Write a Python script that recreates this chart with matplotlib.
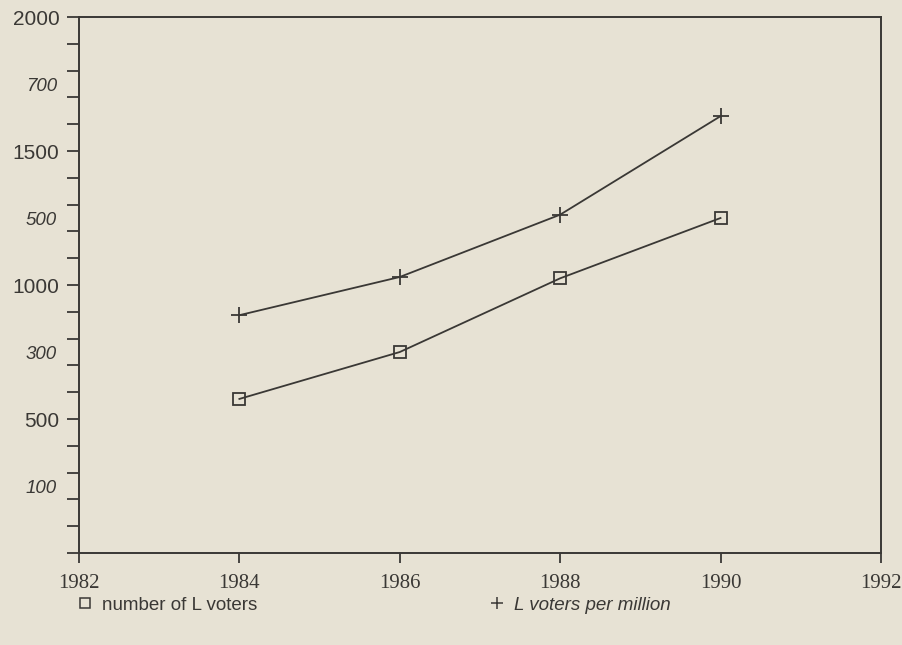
import numpy as np
import matplotlib
matplotlib.use("Agg")
import matplotlib.pyplot as plt
from matplotlib.lines import Line2D

# donnees
annees = [1984, 1986, 1988, 1990]
nb_voters = [575, 750, 1025, 1250]          # echelle de gauche (0-2000)
voters_per_million = [355, 412, 505, 652]   # echelle italique (0-800)

xticks = [1982, 1984, 1986, 1988, 1990, 1992]
yticks = [500, 1000, 1500, 2000]
yticks_pm = [100, 300, 500, 700]

fond = "#e7e2d4"
encre = "#3a3835"

fig = plt.figure(figsize=(9.02, 6.45), dpi=100)
fig.patch.set_facecolor(fond)
ax = fig.add_axes([0.0876, 0.1426, 0.889, 0.831])
ax.set_facecolor(fond)

ax.plot(annees, nb_voters, color=encre, lw=1.3, marker="s", ms=8,
        mfc="none", mec=encre, mew=1.3)
ax.set_xlim(1982, 1992)
ax.set_ylim(0, 2000)
ax.set_xticks(xticks)
ax.set_yticks(yticks)
ax.set_yticks([v for v in range(0, 2000, 100) if v not in yticks], minor=True)
ax.tick_params(axis="y", which="both", direction="out", length=9, width=1.3,
               color=encre, pad=5, labelsize=15, labelcolor=encre)
ax.tick_params(axis="x", direction="out", length=7, width=1.3, color=encre,
               pad=8, labelsize=15, labelcolor=encre)
for lab in ax.get_xticklabels():
    lab.set_family("Liberation Serif")
for lab in ax.get_yticklabels():
    lab.set_family("Liberation Sans")
for s in ax.spines.values():
    s.set_color(encre)
    s.set_linewidth(1.4)

# echelle "par million" : etiquettes italiques a gauche
ax2 = ax.twinx()
ax2.set_ylim(0, 800)
ax2.plot(annees, voters_per_million, color=encre, lw=1.3, marker="+", ms=11,
         mec=encre, mew=1.3)
ax2.set_yticks(yticks_pm)
ax2.yaxis.tick_left()
ax2.tick_params(axis="y", length=0, pad=16, labelsize=13.5, labelcolor=encre)
for lab in ax2.get_yticklabels():
    lab.set_family("Liberation Sans")
    lab.set_style("italic")
for s in ax2.spines.values():
    s.set_visible(False)

# legende sous le graphique
h1 = Line2D([], [], ls="none", marker="s", ms=7, mfc="none", mec=encre, mew=1.1)
h2 = Line2D([], [], ls="none", marker="+", ms=9, mec=encre, mew=1.1)
leg1 = fig.legend([h1], ["number of L voters"], loc="center left",
                  bbox_to_anchor=(0.074, 0.062), frameon=False, borderpad=0,
                  handlelength=1, handletextpad=0.4,
                  prop={"family": "Liberation Sans", "size": 13.5})
leg2 = fig.legend([h2], ["L voters per million"], loc="center left",
                  bbox_to_anchor=(0.530, 0.062), frameon=False, borderpad=0,
                  handlelength=1, handletextpad=0.4,
                  prop={"family": "Liberation Sans", "size": 13.5, "style": "italic"})
for t in leg1.get_texts() + leg2.get_texts():
    t.set_color(encre)

fig.savefig("out.png", dpi=100, facecolor=fond)
